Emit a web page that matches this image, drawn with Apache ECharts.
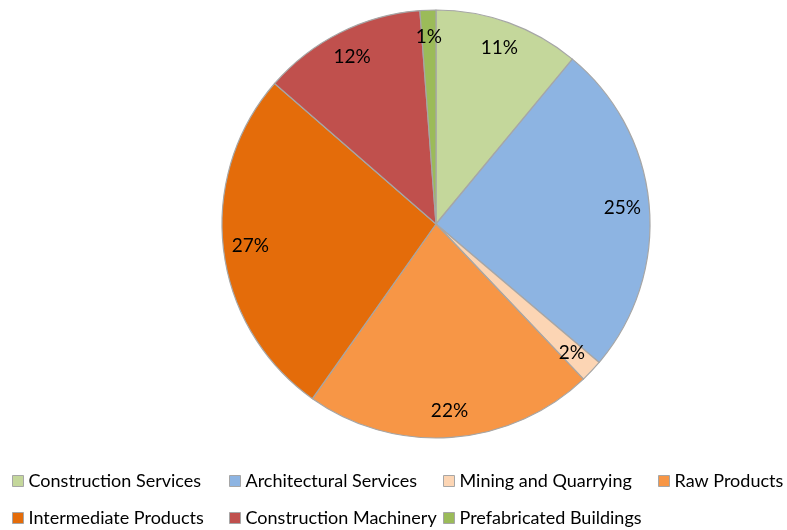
<!DOCTYPE html>
<html><head><meta charset="utf-8">
<script src="https://cdn.jsdelivr.net/npm/echarts@6/dist/echarts.min.js"></script>
<style>html,body{margin:0;padding:0;background:#fff;}#c{width:787px;height:530px;}</style>
</head><body><div id="c"></div>
<script>
const categories = ['Construction Services','Architectural Services','Mining and Quarrying','Raw Products','Intermediate Products','Construction Machinery','Prefabricated Buildings'];
const values = [11.0, 25.2, 1.7, 21.9, 26.6, 12.4, 1.2];
const colors = ['#C4D79B','#8DB4E2','#FCD5B4','#F79646','#E46C0A','#C0504D','#9BBB59'];

const data = categories.map((n,i)=>({name:n, value:values[i], itemStyle:{color:colors[i]}}));
const font = 'Lato';
const legendCols = [
  {left:12, items:[categories[0], categories[4]]},
  {left:229, items:[categories[1], categories[5]]},
  {left:443, items:[categories[2], categories[6]]},
  {left:658, items:[categories[3]]}
];
const chart = echarts.init(document.getElementById('c'));
chart.setOption({
  animation:false,
  color: colors,
  legend: legendCols.map(c=>({
    left:c.left, top:472, orient:'vertical', itemGap:19, padding:0, height:58,
    itemWidth:11, itemHeight:11, icon:'rect',
    itemStyle:{borderColor:'#A6A6A6', borderWidth:1},
    textStyle:{fontFamily:font, fontSize:18, lineHeight:18, color:'#000'},
    data:c.items, selectedMode:false
  })),
  series:[{
    type:'pie', center:[436,224], radius:[0,214], startAngle:90, clockwise:true,
    data:data, label:{show:false}, labelLine:{show:false},
    itemStyle:{borderColor:'#A6A6A6', borderWidth:1.2},
    emphasis:{disabled:true}
  },{
    type:'pie', center:[436,224], radius:[170,198], startAngle:90, clockwise:true,
    silent:true, legendHoverLink:false,
    data:categories.map((n,i)=>({name:n+' ', value:values[i]})),
    itemStyle:{color:'transparent'},
    label:{show:true, position:'inside', formatter:p=>Math.round(p.value)+'%', fontFamily:font, fontSize:19, color:'#000'},
    labelLine:{show:false}, emphasis:{disabled:true}
  }]
});
</script></body></html>
